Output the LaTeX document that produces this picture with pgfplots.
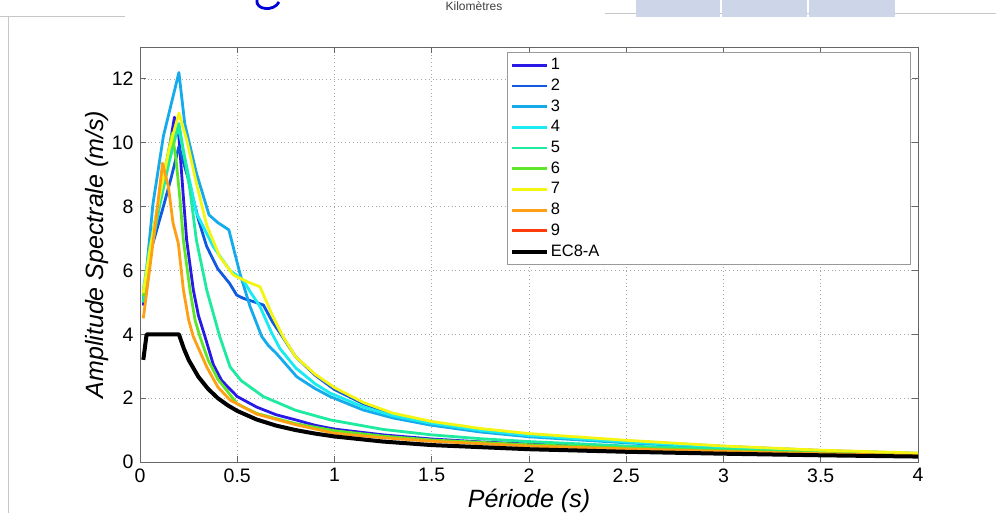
\documentclass[border=0pt]{standalone}
\usepackage{pgfplots}
\pgfplotsset{compat=1.18}
\usepackage{fontspec}
\setmainfont{Liberation Sans}
\definecolor{c1}{RGB}{40,25,230}
\definecolor{c2}{RGB}{15,90,225}
\definecolor{c3}{RGB}{20,170,235}
\definecolor{c4}{RGB}{25,235,240}
\definecolor{c5}{RGB}{30,235,160}
\definecolor{c6}{RGB}{95,230,40}
\definecolor{c7}{RGB}{245,245,20}
\definecolor{c8}{RGB}{255,160,20}
\definecolor{c9}{RGB}{255,60,10}
\definecolor{cell}{RGB}{205,214,232}
\begin{document}
\begin{tikzpicture}[x=1pt,y=1pt]
\useasboundingbox (0,0) rectangle (996,513);
\clip (0,0) rectangle (996,513);
\fill[white] (0,0) rectangle (996,513);
% top decorations (cropped page elements)
\draw[black!22, line width=1pt] (0,496) -- (125,496);
\draw[black!22, line width=1pt] (8,496) -- (8,0);
\draw[black!22, line width=1pt] (605,499) -- (996,499);
\fill[cell] (636,496) rectangle (720,513);
\fill[cell] (722,496) rectangle (807,513);
\fill[cell] (809,496) rectangle (895,513);
\draw[blue!85!black, line width=2.8pt] (257,513) .. controls (255,503) and (274,501) .. (279,511);
\node[font=\fontsize{12}{14}\selectfont, text=black!75] at (474,507) {Kilomètres};
\begin{axis}[
  at={(140pt,51pt)}, anchor=south west,
  scale only axis, width=778pt, height=415pt,
  xmin=0, xmax=4, ymin=0, ymax=13,
  xtick={0,0.5,1,1.5,2,2.5,3,3.5,4},
  ytick={0,2,4,6,8,10,12},
  xticklabels={0,0.5,1,1.5,2,2.5,3,3.5,4},
  grid=major, grid style={dash pattern=on 0.8pt off 3pt, black!35, line width=0.8pt},
  tick align=inside, major tick length=6pt,
  axis line style={black!60, line width=0.9pt},
  tick style={black!60, line width=0.9pt},
  ticklabel style={font=\fontsize{19.5}{22}\selectfont},
  xticklabel style={yshift=-3pt},
  yticklabel style={xshift=-3pt},
  /pgf/number format/assume math mode=true,
  xlabel={\itshape Période (s)},
  ylabel={\itshape Amplitude Spectrale (m/s)},
  label style={font=\fontsize{25}{28}\selectfont},
  xlabel style={yshift=0pt},
  ylabel style={yshift=-4pt},
  legend cell align=left,
  legend style={at={(axis description cs:0.4717,0.988)}, anchor=north west,
    draw=black!40, line width=0.8pt, fill=white,
    font=\fontsize{16.5}{19}\selectfont,
    inner xsep=3pt, inner ysep=2.5pt, row sep=0pt,
    nodes={inner ysep=2.85pt, inner xsep=1.5pt, text height=12pt, text depth=3pt}},
  legend image code/.code={\draw[#1] (0pt,0pt) -- (35pt,0pt);},
  every axis plot/.append style={line width=2.8pt, line join=round},
]
\addplot[c1] coordinates {(0.017,4.9) (0.05,6.4) (0.1,8.1) (0.15,9.8) (0.177,10.8) (0.2,10.2) (0.223,8.3) (0.24,6.95) (0.274,5.4) (0.3,4.6) (0.334,3.93) (0.377,3.05) (0.42,2.55) (0.5,2.05) (0.6,1.72) (0.7,1.48) (0.8,1.32) (0.9,1.15) (1.0,1.03) (1.25,0.85) (1.5,0.72) (1.75,0.63) (2.0,0.56) (2.5,0.45) (3.0,0.36) (3.5,0.28) (4.0,0.22)};
\addlegendentry{\makebox[355pt][l]{1}}
\addplot[c2] coordinates {(0.017,5.0) (0.05,6.5) (0.12,8.0) (0.16,8.9) (0.2,9.88) (0.25,8.83) (0.3,7.6) (0.343,6.75) (0.4,6.05) (0.46,5.6) (0.497,5.23) (0.53,5.13) (0.634,4.92) (0.68,4.4) (0.735,3.9) (0.8,3.3) (0.9,2.72) (1.0,2.27) (1.15,1.82) (1.3,1.5) (1.5,1.24) (1.75,1.02) (2.0,0.86) (2.5,0.66) (3.0,0.49) (3.5,0.36) (4.0,0.27)};
\addlegendentry{2}
\addplot[c3] coordinates {(0.017,5.0) (0.067,8.1) (0.12,10.2) (0.2,12.2) (0.23,10.6) (0.29,9.05) (0.355,7.74) (0.4,7.5) (0.457,7.27) (0.514,5.9) (0.566,4.87) (0.626,3.93) (0.66,3.65) (0.7,3.41) (0.806,2.67) (0.9,2.3) (0.977,2.05) (1.147,1.63) (1.3,1.38) (1.49,1.16) (1.75,0.94) (2.0,0.79) (2.5,0.6) (3.0,0.45) (3.5,0.33) (4.0,0.25)};
\addlegendentry{3}
\addplot[c4] coordinates {(0.017,5.4) (0.05,6.7) (0.1,8.2) (0.15,9.5) (0.194,10.56) (0.24,9.25) (0.29,7.8) (0.376,6.75) (0.463,6.0) (0.53,5.7) (0.57,5.3) (0.617,4.87) (0.677,4.04) (0.72,3.55) (0.8,2.95) (0.9,2.45) (0.977,2.16) (1.15,1.72) (1.3,1.45) (1.49,1.22) (1.75,0.99) (2.0,0.83) (2.5,0.63) (3.0,0.47) (3.5,0.34) (4.0,0.26)};
\addlegendentry{4}
\addplot[c5] coordinates {(0.017,5.0) (0.05,6.4) (0.1,8.0) (0.15,9.4) (0.2,10.6) (0.257,8.52) (0.29,6.95) (0.343,5.39) (0.41,3.93) (0.463,2.98) (0.52,2.55) (0.634,2.05) (0.8,1.62) (0.977,1.32) (1.25,1.02) (1.5,0.85) (1.75,0.73) (2.0,0.64) (2.5,0.5) (3.0,0.4) (3.5,0.31) (4.0,0.24)};
\addlegendentry{5}
\addplot[c6] coordinates {(0.017,5.2) (0.05,6.6) (0.1,8.3) (0.165,10.3) (0.185,9.5) (0.206,8.2) (0.223,6.95) (0.257,5.39) (0.283,4.45) (0.308,3.93) (0.35,3.2) (0.4,2.6) (0.5,1.82) (0.6,1.52) (0.8,1.2) (1.0,0.98) (1.25,0.81) (1.5,0.69) (2.0,0.54) (2.5,0.44) (3.0,0.35) (3.5,0.28) (4.0,0.22)};
\addlegendentry{6}
\addplot[c7] coordinates {(0.017,5.3) (0.05,6.6) (0.1,8.3) (0.15,9.8) (0.2,10.93) (0.24,10.1) (0.29,8.73) (0.343,7.42) (0.41,6.43) (0.48,5.86) (0.55,5.65) (0.617,5.49) (0.68,4.6) (0.735,3.93) (0.8,3.3) (0.9,2.75) (1.0,2.33) (1.15,1.86) (1.3,1.53) (1.5,1.27) (1.75,1.05) (2.0,0.89) (2.5,0.68) (3.0,0.5) (3.5,0.37) (4.0,0.28)};
\addlegendentry{7}
\addplot[c8] coordinates {(0.017,4.5) (0.051,6.1) (0.086,7.8) (0.116,9.36) (0.146,8.62) (0.17,7.48) (0.197,6.85) (0.223,5.4) (0.25,4.45) (0.274,3.93) (0.343,2.98) (0.4,2.35) (0.463,1.94) (0.6,1.5) (0.806,1.16) (1.0,0.9) (1.25,0.76) (1.5,0.65) (2.0,0.5) (2.5,0.41) (3.0,0.33) (3.5,0.26) (4.0,0.2)};
\addlegendentry{8}
\addlegendimage{c9, line width=2.8pt}
\addlegendentry{9}
\addplot[black, line width=4pt] coordinates {(0.017,3.2) (0.034,4.0) (0.2,4.0) (0.225,3.56) (0.25,3.2) (0.3,2.67) (0.35,2.29) (0.4,2.0) (0.45,1.78) (0.5,1.6) (0.6,1.33) (0.7,1.14) (0.8,1.0) (0.9,0.89) (1.0,0.8) (1.25,0.64) (1.5,0.53) (2.0,0.4) (2.5,0.32) (3.0,0.26) (3.5,0.21) (4.0,0.17)};
\addlegendentry{EC8-A}
\end{axis}
\end{tikzpicture}
\end{document}
